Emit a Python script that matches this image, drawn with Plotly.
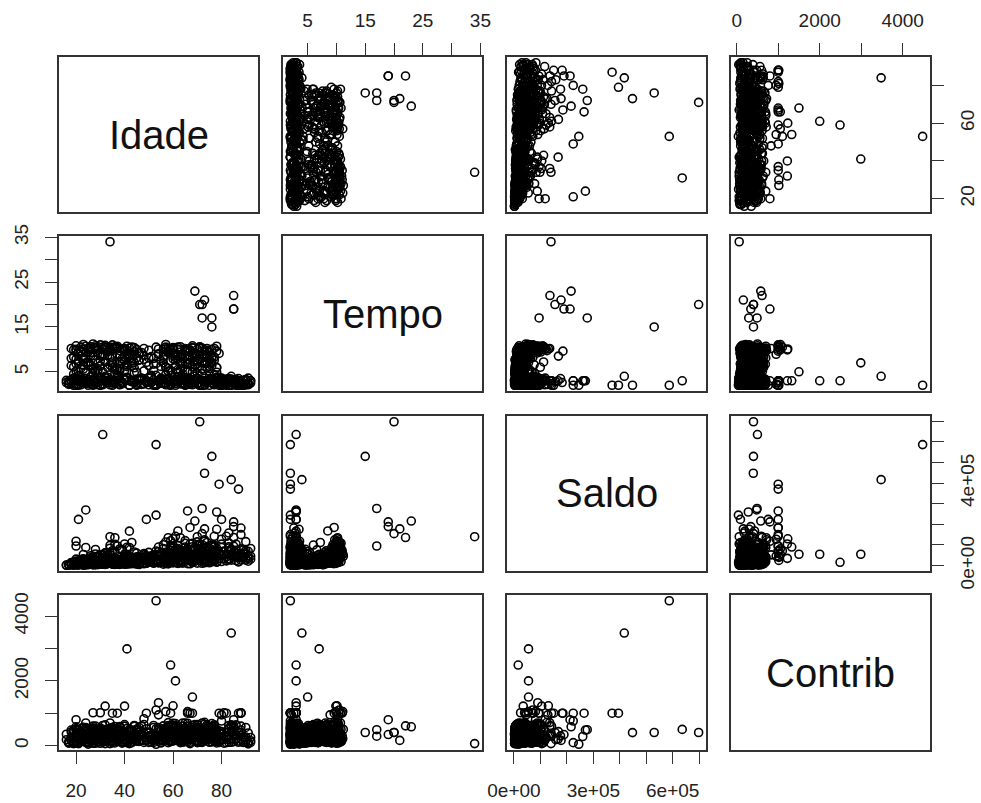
import plotly.graph_objects as go

# ---------------- data ----------------
# Group A: short Tempo (2-4), all ages
idade_a = [16,17,18,18,19,19,20,20,21,21,
           22,22,23,23,24,24,25,25,26,27,
           27,28,28,29,30,30,31,32,32,33,
           34,35,35,36,37,38,38,39,40,41,
           42,43,44,45,45,46,47,48,49,50,
           50,51,52,52,53,54,55,55,56,57,
           57,58,58,59,60,60,61,61,62,62,
           63,63,64,64,65,65,66,66,67,67,
           68,68,69,69,70,70,71,72,72,73,
           73,74,75,75,76,77,77,78,78,79,
           79,80,80,81,82,83,83,84,85,86,
           86,87,88,88,89,90,90,91,91,92]
tempo_a = [3.1,2.2,2.8,2.5,3.4,2.0,3.6,2.3,2.9,4.1,
           2.1,3.2,2.6,3.0,2.4,3.5,2.7,2.0,3.9,3.3,
           2.2,2.9,2.5,2.1,3.1,3.7,2.3,3.0,4.0,2.6,
           3.2,2.0,2.8,2.4,3.5,3.0,2.1,2.7,3.3,3.8,
           2.0,3.1,2.9,2.5,2.2,3.4,3.6,2.3,3.0,2.1,
           2.8,2.6,2.0,3.2,4.2,2.9,2.4,3.1,2.5,3.3,
           2.1,3.6,2.8,2.2,3.0,2.7,2.0,3.4,3.9,2.9,
           2.3,3.1,2.6,3.3,2.0,3.7,2.8,2.2,3.0,2.5,
           2.1,3.2,4.0,2.9,2.3,3.5,2.6,2.0,3.1,3.6,
           2.2,2.8,2.0,3.3,2.5,3.0,2.1,2.9,3.8,2.4,
           3.2,2.6,2.0,3.0,2.3,3.4,3.5,2.1,2.8,2.0,
           3.1,2.5,2.2,2.9,2.0,3.3,2.4,3.6,2.1,3.0]
saldo_a = [1500,4000,6200,2800,9500,3300,12000,5100,7800,15500,
           8200,21000,4600,11800,26500,6900,14200,3800,18700,9900,
           31000,12500,5600,24000,16800,8400,28500,10600,19200,35000,
           13800,7200,22400,30500,11200,17400,6100,26000,38000,14600,
           20800,9300,33500,16400,42000,12700,24600,8800,29400,45500,
           18200,36500,11500,52000,27000,14800,61000,22800,40500,9700,
           33800,57000,19600,74000,26400,48500,15200,66000,38700,82000,
           29600,54500,12100,71500,44200,90000,23500,63500,35400,105000,
           47600,16900,78500,31200,58400,96000,25800,69000,41800,118000,
           53500,21400,84000,37300,63000,28700,99000,45600,72500,34200,
           56500,88000,19800,67500,42600,110000,31400,76500,49300,24500,
           61500,39000,81000,27300,58800,36500,72000,21300,47200,30800]
contrib_a = [350,90,480,150,60,260,120,520,200,75,
             410,140,300,560,110,230,45,380,170,500,
             95,320,600,185,440,70,270,130,360,210,
             530,160,250,80,470,340,590,115,290,190,
             60,420,220,500,135,310,175,650,240,400,
             285,105,560,195,330,480,85,260,610,145,
             370,225,500,120,455,300,680,165,230,520,
             140,390,275,100,545,210,330,470,190,60,
             250,620,150,405,90,300,520,235,700,180,
             335,455,110,260,590,205,380,130,500,275,
             160,430,350,75,290,200,510,640,120,345,
             225,100,480,310,170,560,265,50,390,150]

# Group B: Tempo 5-11, younger
idade_b = [18,19,19,20,20,21,21,22,22,23,
           23,24,24,25,25,26,26,27,27,28,
           28,29,29,30,30,31,31,32,32,33,
           33,34,34,35,35,36,36,37,37,38,
           38,39,39,40,40,41,41,42,42,43,
           43,44,44,45,45,46,20,23,26,29,
           32,35,38,41,44,22,25,28,31,34,
           37,40,43,27,36]
tempo_b = [10.2,6.1,8.3,9.8,5.2,7.4,9.1,10.5,5.8,8.0,
           10.0,4.8,7.0,10.3,9.4,6.5,9.9,8.6,5.5,10.1,
           7.7,9.2,10.6,6.3,8.8,10.0,5.0,7.2,10.4,9.6,
           6.0,9.7,8.1,11.0,6.8,10.2,4.6,8.9,10.7,5.7,
           8.4,10.1,7.3,9.9,5.3,9.0,6.2,10.3,7.9,6.9,
           10.5,5.9,8.7,10.0,4.9,7.6,10.8,6.6,9.3,5.4,
           10.1,8.2,5.1,9.8,7.1,9.5,6.4,10.4,8.5,10.0,
           5.6,7.5,9.0,11.2,10.6]
saldo_b = [15000,4200,9800,22000,3100,7600,12800,28500,5300,10900,
           33000,4700,8600,25500,18400,6200,37500,14300,5800,41000,
           11700,20600,46500,7100,16200,52000,6400,13500,58000,24200,
           9100,63500,19300,72000,12400,68000,8300,27600,95000,10500,
           23100,78000,15800,105000,7700,31800,11300,88000,26700,18900,
           112000,9500,36400,60500,6800,21500,19500,9200,16700,8000,
           44000,17600,5500,49000,13900,29500,10100,56500,22900,84000,
           8900,16300,34600,45000,38500]
contrib_b = [150,420,95,300,510,180,80,260,450,130,
             330,560,210,100,380,500,160,240,600,70,
             470,190,310,540,120,410,270,640,140,350,
             500,230,700,1000,90,320,480,175,1000,260,
             580,110,390,1220,300,200,530,145,430,250,
             90,620,285,170,490,340,120,560,215,400,
             280,505,360,135,600,195,450,240,110,380,
             520,165,295,500,400]

# Group C: Tempo 5-11, middle ages
idade_c = [47,48,49,50,51,52,53,54,55,56,48,53]
tempo_c = [9.3,10.2,7.1,9.8,8.4,5.3,10.5,8.9,6.2,10.1,7.8,6.8]
saldo_c = [38000,52000,21000,64000,29500,12500,71000,45500,18000,83000,33500,26000]
contrib_c = [330,829,180,420,260,95,1100,950,150,520,290,210]

# Group D: Tempo 5-11, older
idade_d = [56,57,57,58,58,59,59,60,60,61,
           61,62,62,63,63,64,64,65,65,66,
           66,67,67,68,68,69,69,70,70,71,
           71,72,72,73,73,74,74,75,75,76,
           76,77,77,78,78,79,57,60,63,66,
           69,72,75,78,59,62,65,68,71,74]
tempo_d = [8.2,10.1,6.0,9.3,5.1,9.8,7.4,8.6,10.4,6.3,
           9.0,10.0,4.9,7.1,10.6,8.0,5.8,10.2,9.5,6.7,
           5.3,9.9,8.4,6.1,10.3,9.2,7.3,10.0,4.7,7.8,
           10.5,5.6,8.9,9.7,6.9,8.1,10.2,5.2,9.4,6.4,
           10.0,7.6,8.3,10.7,5.9,9.1,11.1,10.1,7.0,9.9,
           8.5,10.3,6.2,9.6,10.0,5.0,7.2,10.4,7.9,9.8]
saldo_d = [34000,58000,12500,46000,8300,72000,21500,39500,85000,15600,
           51000,96000,10200,27800,63000,43500,18800,108000,56500,24600,
           9400,78000,37200,16400,91000,48800,29300,115000,11800,41600,
           68500,20300,53700,125000,32500,45300,86000,13400,59500,22700,
           99000,35800,47100,74000,17300,62500,55000,130000,26400,81000,
           40200,102000,19700,66500,93000,14900,31600,70500,50400,88500]
contrib_d = [520,180,330,90,460,250,610,140,300,550,
             210,380,480,160,270,600,120,340,230,690,
             420,100,510,280,190,650,360,150,560,240,
             310,470,130,720,220,590,170,400,260,530,
             115,445,640,200,350,95,1050,1230,500,1050,
             270,180,580,330,1000,450,125,1000,405,640]

# Group E: more of the dense body
idade_e = [17,19,21,22,24,25,27,28,30,31,
           33,34,36,37,39,40,42,43,45,47,
           49,51,53,55,56,58,59,61,62,64,
           65,67,68,70,71,73,74,76,77,79,
           81,83,85,87,89,18,20,23,26,29,
           32,35,38,41,44,46,48,50,52,54,
           57,60,63,66,69,72,75,78,80,82,
           84,86,88,90,19,22,25,28,31,34,
           37,40,43,57,60,63,66,69,72,75,
           21,24,27,30,33,36,39,42,58,61,
           64,67,70,73,76,26,29,32,35,38,
           62,65,68,71,74,44,50,55,59,77,
           20,23,41,46,51,56,79,83,86,91]
tempo_e = [2.4,3.0,2.2,3.7,2.6,3.3,2.0,2.9,3.5,2.3,
           3.1,2.1,2.7,3.9,2.5,3.2,2.0,2.8,3.4,2.2,
           3.0,2.6,2.1,3.6,2.4,3.3,2.0,2.9,3.8,2.5,
           3.2,2.2,2.7,3.5,2.0,3.0,2.6,3.4,2.3,2.9,
           2.1,3.3,2.5,2.0,3.1,6.4,7.8,5.6,8.5,6.9,
           7.3,5.9,8.8,6.2,4.8,7.6,5.2,8.1,6.7,9.0,
           6.1,7.9,5.4,8.4,6.6,7.2,5.7,4.9,3.6,2.7,
           3.4,2.4,3.0,2.2,4.5,9.3,7.1,5.3,8.7,6.5,
           4.3,9.6,7.4,4.4,9.2,6.8,5.0,8.8,4.6,7.7,
           5.0,8.0,4.7,6.3,9.5,5.5,7.9,8.6,5.8,8.2,
           4.5,9.4,6.0,8.3,7.0,10.6,9.8,10.9,10.3,9.7,
           10.5,9.9,10.8,10.2,9.6,10.4,6.4,7.5,10.1,4.4,
           10.0,11.1,10.7,9.1,4.2,9.4,3.8,2.0,2.6,2.3]
saldo_e = [3500,7800,2100,12400,5600,16900,9100,4300,21800,7000,
           13300,26000,5900,18500,10200,31500,8000,22600,14900,36800,
           11400,43000,19900,27500,6600,50500,34000,15800,62500,24300,
           45800,8700,70500,30100,56000,13700,86500,39700,22100,64000,
           50800,28900,94000,17500,41500,6500,11900,3900,17800,9700,
           20500,8100,29800,13000,24900,5200,34700,16300,47300,22000,
           38200,12900,59700,27100,76000,44900,19200,68500,33100,53600,
           26200,73500,37800,60500,2600,14100,7300,23900,11100,32600,
           6900,43800,19500,25800,88500,14200,55300,33900,79000,47900,
           4400,12100,2900,18100,8900,25300,15300,35900,42800,20700,
           61700,30900,99500,52400,18600,48000,21700,61000,36200,80500,
           74500,41000,108500,58900,92000,66000,29100,50200,120500,24100,
           31400,54000,89000,39100,35600,101000,57200,85500,46400,69300]
contrib_e = [120,480,60,300,210,90,540,170,330,250,
             400,140,590,230,75,360,500,110,270,185,
             520,195,310,85,440,260,130,610,220,380,
             160,470,290,560,100,350,240,680,420,145,
             300,520,180,410,95,250,380,160,500,110,
             340,210,470,125,290,560,150,390,230,500,
             450,270,130,600,320,190,520,80,370,240,
             560,200,410,105,70,300,180,500,260,430,
             150,350,480,210,620,90,400,275,540,190,
             230,500,140,380,205,460,115,310,580,265,
             390,170,650,245,510,320,480,140,560,220,
             280,700,190,430,350,600,95,470,255,530,
             500,215,360,130,290,480,175,620,330,80]

# Group F: further body points
idade_f = [16,18,20,22,24,26,28,30,32,34,
           36,38,40,42,44,46,48,50,52,54,
           56,58,60,62,64,66,68,70,72,74,
           76,78,80,82,84,86,88,90,92,17,
           19,21,23,25,27,29,31,33,35,37,
           39,41,43,45,47,49,51,53,55,57,
           59,61,63,65,67,69,71,73,75,77,
           79,81,83,85,87,89,91,18,22,26,
           30,34,38,42,20,24,28,32,36,40,
           44,21,25,29,33,37,41,45,19,23,
           27,31,35,39,43,58,62,66,70,74,
           78,60,64,68,72,76,57,61,65,69,
           73,77,59,63,67,71,75,56,58,62,
           64,66,68,70,72,74,76,28,34,40,
           46,52,54,56,24,30,36,48,80,85]
tempo_f = [2.6,3.2,2.0,2.8,3.5,2.3,3.0,2.1,3.7,2.5,
           2.9,2.2,3.4,2.0,2.7,3.1,2.4,3.6,2.2,2.8,
           3.3,2.1,2.6,3.9,2.3,3.0,2.5,3.5,2.0,2.9,
           3.1,2.4,2.7,3.4,2.1,2.8,2.2,3.2,2.5,2.9,
           3.6,2.0,3.0,2.4,3.3,2.7,2.1,3.8,2.6,3.1,
           2.3,3.5,2.8,2.0,3.2,2.6,3.9,2.2,3.4,2.5,
           3.0,2.4,3.6,2.1,2.9,3.3,2.0,2.7,3.1,2.3,
           2.6,3.2,2.0,2.8,3.5,2.2,2.5,8.0,9.7,10.3,
           7.4,10.0,5.6,8.9,6.8,9.2,4.9,10.6,6.1,8.3,
           9.5,7.0,10.2,5.4,8.6,10.4,6.6,8.1,9.9,7.7,
           5.8,9.0,7.2,10.1,6.3,9.6,5.5,10.0,7.4,8.8,
           6.0,10.3,6.9,9.1,5.7,8.0,10.5,7.6,9.8,6.5,
           8.7,10.2,5.3,9.4,7.1,10.6,6.2,8.5,5.1,10.0,
           9.0,7.8,8.2,6.8,9.6,5.9,8.4,10.8,10.5,10.2,
           9.3,8.0,10.1,7.0,10.7,11.0,10.4,8.6,3.3,2.4]
saldo_f = [2200,9800,5500,14300,3700,21100,7600,17500,4900,26800,
           11900,29300,6400,35800,15600,9100,42200,19000,51500,12600,
           28000,64300,16100,79500,36900,52300,20900,98500,43400,67200,
           31800,83500,47600,22700,71000,38300,58100,26700,45300,3100,
           6700,16200,2700,23700,10500,4600,30400,13100,8200,20300,
           32800,7100,24100,15100,39600,10900,46700,27300,14100,57900,
           34100,77500,18300,60400,29100,88200,41100,24000,69800,50900,
           60900,33400,91500,44800,19600,75500,35100,7400,18900,36300,
           24400,52300,9000,44300,6000,29000,5000,61800,16600,40900,
           33700,11600,27400,6900,39200,15700,47300,30600,10400,4000,
           13600,35300,21000,74500,31000,26100,12000,82500,37000,57000,
           16500,96500,23000,47100,10900,63300,114500,33200,69900,20000,
           44800,90800,14400,58700,30700,104000,23600,40700,11000,78700,
           54600,26800,71300,36400,86800,17600,61300,78000,98000,56000,
           41300,19800,67000,15300,88000,52800,103000,58600,104000,66000]
contrib_f = [180,420,90,310,520,140,250,380,60,460,
             230,560,120,340,200,480,95,300,620,170,
             410,150,530,260,700,190,360,110,480,280,
             540,230,380,90,450,300,600,170,250,75,
             110,330,240,500,70,410,190,280,560,130,
             360,90,470,220,610,150,300,520,180,430,
             250,580,135,400,210,500,320,660,105,370,
             450,190,300,560,140,260,90,230,400,160,
             500,120,350,270,580,95,420,210,305,650,
             180,475,100,390,245,520,160,300,85,370,
             290,620,140,455,210,380,560,120,330,500,
             240,690,170,410,95,530,300,600,190,445,
             360,130,580,255,480,220,350,140,620,300,
             170,505,270,640,115,390,225,500,330,600,
             410,150,560,240,700,305,500,380,210,470]

# Group G: older members with mid-size balances
idade_g = [62,65,67,70,74,78,80,83,86,88,90,58]
tempo_g = [8.5,3.1,9.6,2.4,7.2,3.5,2.2,2.8,3.3,2.6,2.1,10.2]
saldo_g = [168000,121000,185000,140000,112000,176000,128000,158000,104000,182000,116000,135000]
contrib_g = [430,260,1000,380,520,300,950,180,640,1000,240,710]

# Group O: isolated points
idade_o = [34,69,85,73,72,71,85,85,76,72,76,
           53,84,41,59,61,68,
           31,73,79,87,
           21,24,49,53,66,78,80,
           20,20,36,42,61,63,77,82,88,89,92,84,
           27,30,32,54,81,84,88,83,23]
tempo_o = [34,23,22,21,20,20,19,19,17,17,15,
           2,4,7,3,3,5,
           3,2,2,2,
           3,3,3,2,3,3,2,
           3,2,3,3,3,3,3,2,2,2,3,2,
           3,2,3,3,3,3,3,2,3]
saldo_o = [140000,216000,136000,178000,155000,698000,189000,212000,95000,277000,530000,
           587000,417000,55000,16000,55000,55000,
           636000,448000,395000,371000,
           224000,270000,224000,245000,265000,260000,224000,
           118000,95000,135000,167000,142000,135000,142000,142000,150000,60000,83000,50000,
           40000,25000,35000,90000,70000,80000,45000,30000,30000]
contrib_o = [60,580,610,160,405,404,340,800,290,490,404,
             4480,3480,2990,2490,2000,1500,
             500,400,1000,1000,
             90,480,1000,40,1000,280,760,
             800,300,300,200,300,350,600,1000,1000,100,100,100,
             1015,1015,1220,1326,1015,590,1015,100,560]

names = ["Idade", "Tempo", "Saldo", "Contrib"]
idade = idade_a + idade_b + idade_c + idade_d + idade_e + idade_f + idade_g + idade_o
tempo = tempo_a + tempo_b + tempo_c + tempo_d + tempo_e + tempo_f + tempo_g + tempo_o
saldo = saldo_a + saldo_b + saldo_c + saldo_d + saldo_e + saldo_f + saldo_g + saldo_o
contrib = contrib_a + contrib_b + contrib_c + contrib_d + contrib_e + contrib_f + contrib_g + contrib_o
data = [idade, tempo, saldo, contrib]

# tick specs: (values, labels)
tempo_ticks = ([5, 10, 15, 20, 25, 30, 35], ["5", "", "15", "", "25", "", "35"])
contrib_ticks = ([0, 1000, 2000, 3000, 4000], ["0", "", "2000", "", "4000"])
idade_ticks_bottom = ([20, 40, 60, 80], ["20", "40", "60", "80"])
idade_ticks_right = ([20, 40, 60, 80], ["20", "", "60", ""])
saldo_vals = [0, 100000, 200000, 300000, 400000, 500000, 600000, 700000]
saldo_ticks_bottom = (saldo_vals, ["0e+00", "", "", "3e+05", "", "", "6e+05", ""])
saldo_ticks_right = (saldo_vals, ["0e+00", "", "", "", "4e+05", "", "", ""])

# ---------------- layout geometry ----------------
W, H = 981, 803
col_px = [(59, 258), (283, 482), (507, 706), (731, 930)]
row_px = [(57, 212), (236, 391), (416, 571), (595, 750)]


def ext(v):
    lo, hi = min(v), max(v)
    d = (hi - lo) * 0.04
    return [lo - d, hi + d]


ranges = [ext(v) for v in data]

FONT = "Liberation Sans, Arial, sans-serif"
LINE = "#333333"
TICKFONT = dict(family=FONT, size=19, color="#222222")
STANDOFF = {"top": 9, "bottom": 10, "left": 10, "right": 7}

fig = go.Figure()
layout = dict(template="none", width=W, height=H, autosize=False,
              margin=dict(l=0, r=0, t=0, b=0, pad=0),
              paper_bgcolor="white", plot_bgcolor="white", showlegend=False,
              annotations=[])

for r in range(4):
    for c in range(4):
        k = r * 4 + c + 1
        xa = "xaxis" if k == 1 else f"xaxis{k}"
        ya = "yaxis" if k == 1 else f"yaxis{k}"
        xref = "x" if k == 1 else f"x{k}"
        yref = "y" if k == 1 else f"y{k}"
        xd = [col_px[c][0] / W, col_px[c][1] / W]
        yd = [1 - row_px[r][1] / H, 1 - row_px[r][0] / H]
        common = dict(showline=True, mirror=True, linecolor=LINE, linewidth=1.5,
                      showgrid=False, zeroline=False, ticks="", showticklabels=False,
                      fixedrange=True, automargin=False)
        xax = dict(domain=xd, range=ranges[c], anchor=yref, **common)
        yax = dict(domain=yd, range=ranges[r], anchor=xref, **common)
        xt = None
        if r == 0 and c == 1:
            xt, side = tempo_ticks, "top"
        elif r == 0 and c == 3:
            xt, side = contrib_ticks, "top"
        elif r == 3 and c == 0:
            xt, side = idade_ticks_bottom, "bottom"
        elif r == 3 and c == 2:
            xt, side = saldo_ticks_bottom, "bottom"
        if xt:
            xax.update(side=side, ticks="outside", ticklen=12, tickwidth=1.3, tickcolor=LINE,
                       tickvals=xt[0], ticktext=xt[1], showticklabels=True,
                       tickfont=TICKFONT, ticklabelstandoff=STANDOFF[side])
        yt = None
        if c == 0 and r == 1:
            yt, side = tempo_ticks, "left"
        elif c == 0 and r == 3:
            yt, side = contrib_ticks, "left"
        elif c == 3 and r == 0:
            yt, side = idade_ticks_right, "right"
        elif c == 3 and r == 2:
            yt, side = saldo_ticks_right, "right"
        if yt:
            yax.update(side=side, ticks="outside", ticklen=12, tickwidth=1.3, tickcolor=LINE,
                       tickvals=yt[0], ticktext=yt[1], showticklabels=True,
                       tickfont=TICKFONT, tickangle=-90, ticklabelstandoff=STANDOFF[side])
        layout[xa] = xax
        layout[ya] = yax
        if r == c:
            # empty trace so that the panel box is drawn
            fig.add_trace(go.Scatter(x=[], y=[], mode="markers", xaxis=xref, yaxis=yref,
                                     hoverinfo="skip"))
            layout["annotations"].append(dict(
                text=names[r], xref=f"{xref} domain", yref=f"{yref} domain",
                x=0.5, y=0.5, showarrow=False,
                font=dict(family=FONT, size=40, color="#111111")))
        else:
            fig.add_trace(go.Scatter(
                x=data[c], y=data[r], mode="markers", xaxis=xref, yaxis=yref,
                marker=dict(symbol="circle-open", size=8, color="black",
                            line=dict(width=1.6)),
                hoverinfo="skip"))

fig.update_layout(**layout)
fig.write_html("out.html")
